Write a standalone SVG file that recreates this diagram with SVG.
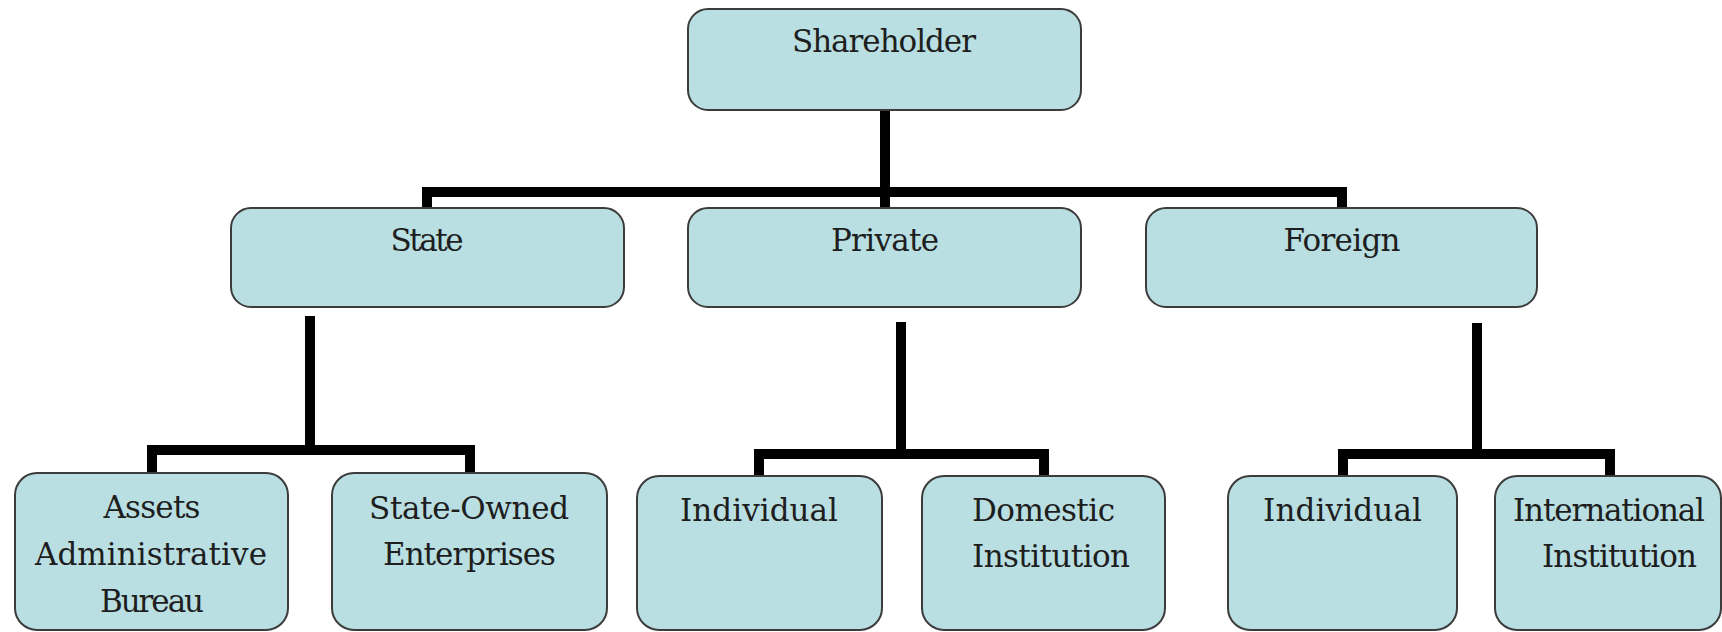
<svg xmlns="http://www.w3.org/2000/svg" width="1722" height="632" viewBox="0 0 1722 632">
  <style>
    .box{fill:#b9dfe2;stroke:#3c3c3c;stroke-width:2}
    .lbl{font-family:"DejaVu Serif","Liberation Serif",serif;font-size:31px;fill:#1e1e1e;text-anchor:middle}
    .wire{fill:none;stroke:#000;stroke-width:10;stroke-linejoin:miter;stroke-linecap:butt}
  </style>

  <!-- connectors -->
  <g id="connectors">
    <path class="wire" d="M885 110 V208"/>
    <path class="wire" d="M427 208 V192 H1342 V208"/>
    <path class="wire" d="M310 316 V450"/>
    <path class="wire" d="M152 473 V450 H470 V473"/>
    <path class="wire" d="M901 322 V454"/>
    <path class="wire" d="M759 476 V454 H1044 V476"/>
    <path class="wire" d="M1477 323 V454"/>
    <path class="wire" d="M1343 476 V454 H1610 V476"/>
  </g>

  <g id="shareholder">
    <rect class="box" x="688" y="9" width="393" height="101" rx="20"/>
    <text class="lbl" x="884" y="52" textLength="184">Shareholder</text>
  </g>

  <g id="state">
    <rect class="box" x="231" y="208" width="393" height="99" rx="20"/>
    <text class="lbl" x="427" y="251" textLength="73">State</text>
  </g>

  <g id="private">
    <rect class="box" x="688" y="208" width="393" height="99" rx="20"/>
    <text class="lbl" x="885" y="251" textLength="108">Private</text>
  </g>

  <g id="foreign">
    <rect class="box" x="1146" y="208" width="391" height="99" rx="20"/>
    <text class="lbl" x="1342" y="251" textLength="117">Foreign</text>
  </g>

  <g id="assets-bureau">
    <rect class="box" x="15" y="473" width="273" height="157" rx="22"/>
    <text class="lbl" x="152" y="518" textLength="97">Assets</text>
    <text class="lbl" x="151" y="565" textLength="232">Administrative</text>
    <text class="lbl" x="152" y="612" textLength="104">Bureau</text>
  </g>

  <g id="soe">
    <rect class="box" x="332" y="473" width="275" height="157" rx="22"/>
    <text class="lbl" x="469" y="519" textLength="200">State-Owned</text>
    <text class="lbl" x="469.5" y="565" textLength="173">Enterprises</text>
  </g>

  <g id="private-individual">
    <rect class="box" x="637" y="476" width="245" height="154" rx="22"/>
    <text class="lbl" x="759" y="521" textLength="158">Individual</text>
  </g>

  <g id="domestic-institution">
    <rect class="box" x="922" y="476" width="243" height="154" rx="22"/>
    <text class="lbl" x="1043.5" y="521" textLength="143">Domestic</text>
    <text class="lbl" x="1051" y="567" textLength="158">Institution</text>
  </g>

  <g id="foreign-individual">
    <rect class="box" x="1228" y="476" width="229" height="154" rx="22"/>
    <text class="lbl" x="1342.5" y="521" textLength="159">Individual</text>
  </g>

  <g id="international-institution">
    <rect class="box" x="1495" y="476" width="226" height="154" rx="22"/>
    <text class="lbl" x="1609" y="521" textLength="192">International</text>
    <text class="lbl" x="1619.5" y="567" textLength="155">Institution</text>
  </g>
</svg>
